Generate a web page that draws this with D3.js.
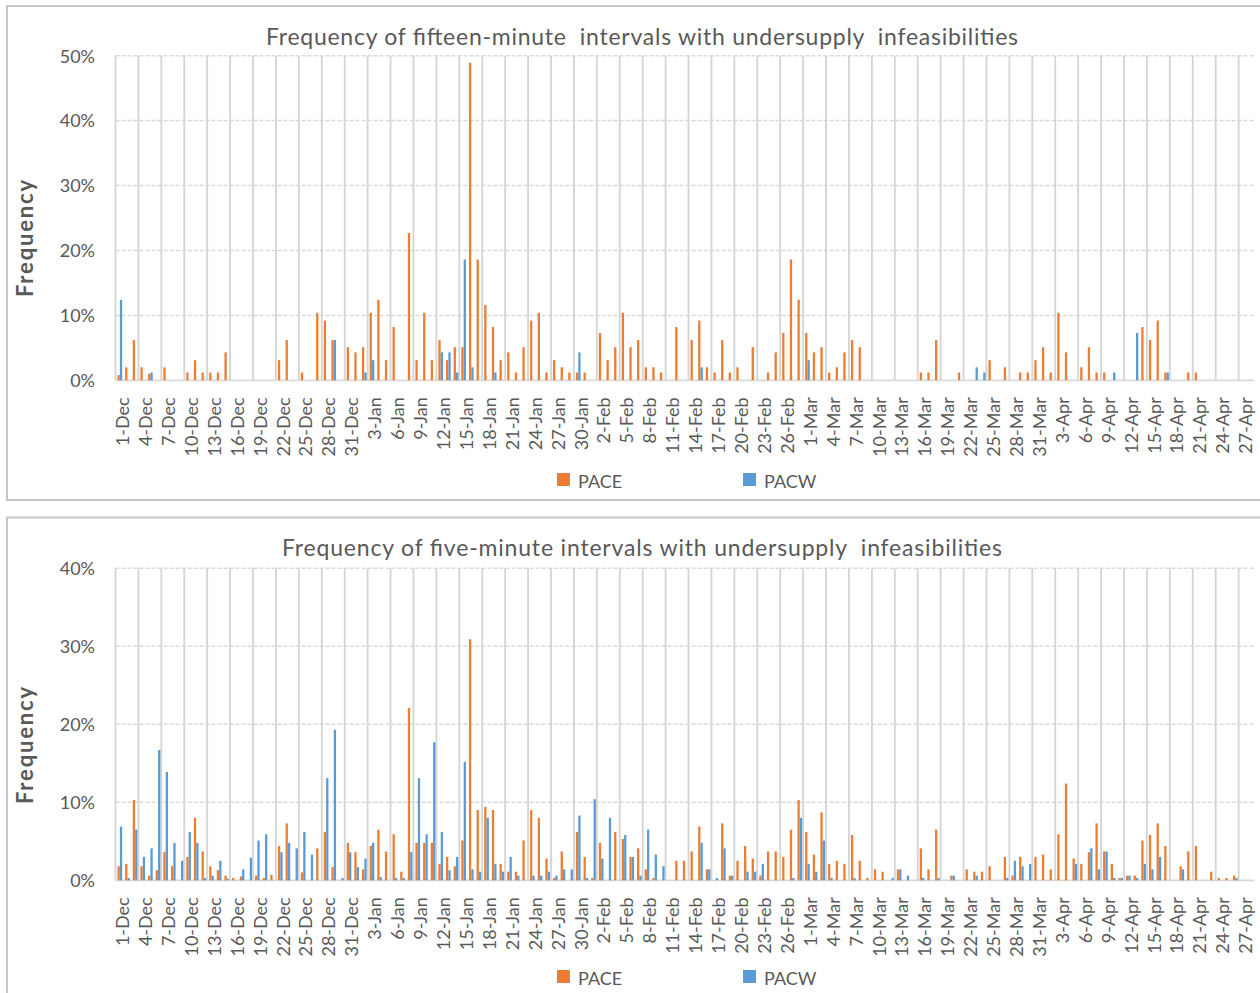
<!DOCTYPE html>
<html><head><meta charset="utf-8">
<script src="https://cdn.jsdelivr.net/npm/d3@7"></script>
<style>
html,body{margin:0;padding:0;background:#fff;}
svg{display:block;font-family:Lato,"Open Sans",sans-serif;}
</style></head><body>
<svg id="chart" width="1260" height="993"></svg>
<script>
// ---- categories ----
const months = [["Dec",31],["Jan",31],["Feb",28],["Mar",31],["Apr",28]];
const days = [];
months.forEach(([m,n]) => { for (let d = 1; d <= n; d++) days.push(d + "-" + m); });
const series = ["PACE","PACW"];
const seriesColors = ["#ED7D31","#5B9BD5"];

// ---- fifteen-minute panel (percent) ----
const pace15 = [
 /*Dec*/ 0.8,2.0,6.2,2.0,1.0,0,2.0,0,0,1.2, 3.1,1.2,1.2,1.2,4.3,0,0,0,0,0, 0,3.1,6.2,0,1.2,0,10.4,9.2,6.2,0, 5.1,
 /*Jan*/ 4.3,5.1,10.4,12.4,3.1,8.2,0,22.7,3.1,10.4, 3.1,6.2,3.1,5.1,5.1,48.9,18.6,11.6,8.2,3.1, 4.3,1.2,5.1,9.2,10.4,1.2,3.1,2.0,1.2,1.2, 1.2,
 /*Feb*/ 0,7.3,3.1,5.1,10.4,5.1,6.2,2.0,2.0,1.2, 0,8.2,0,6.2,9.2,2.0,1.2,6.2,1.2,2.0, 0,5.1,0,1.2,4.3,7.3,18.6,12.4,
 /*Mar*/ 7.3,4.3,5.1,1.2,2.0,4.3,6.2,5.1,0,0, 0,0,0,0,0,1.2,1.2,6.2,0,0, 1.2,0,0,0,3.1,0,2.0,0,1.2,1.2, 3.1,
 /*Apr*/ 5.1,1.2,10.4,4.3,0,2.0,5.1,1.2,1.2,0, 0,0,0,8.2,6.2,9.2,1.2,0,0,1.2, 1.2,0,0,0,0,0,0,0
];
const pacw15 = [
 /*Dec*/ 12.4,0,0,0,1.2,0,0,0,0,0, 0,0,0,0,0,0,0,0,0,0, 0,0,0,0,0,0,0,0,6.2,0, 0,
 /*Jan*/ 0,1.2,3.1,0,0,0,0,0,0,0, 0,4.3,4.3,1.2,18.6,2.0,0,0,1.2,0, 0,0,0,0,0,0,0,0,0,4.3, 0,
 /*Feb*/ 0,0,0,0,0,0,0,0,0,0, 0,0,0,0,2.0,0,0,0,0,0, 0,0,0,0,0,0,0,0,
 /*Mar*/ 3.1,0,0,0,0,0,0,0,0,0, 0,0,0,0,0,0,0,0,0,0, 0,0,2.0,1.2,0,0,0,0,0,0, 0,
 /*Apr*/ 0,0,0,0,0,0,0,0,0,1.2, 0,0,7.3,0,0,0,1.2,0,0,0, 0,0,0,0,0,0,0,0
];

// ---- five-minute panel (percent) ----
const pace5 = [
 /*Dec*/ 1.8,2.1,10.3,1.8,0.6,1.3,3.6,1.8,0,3.0, 8.0,3.7,1.8,1.3,0.6,0.3,0.5,0,0.6,0.3, 0.7,4.4,7.3,0,1.0,0,4.1,6.2,1.7,0, 4.8,
 /*Jan*/ 3.6,1.4,4.4,6.5,3.7,5.9,1.1,22.1,4.8,4.8, 4.8,2.1,3.0,1.8,5.1,30.9,9.0,9.4,9.0,2.1, 1.1,1.1,5.1,9.0,8.0,2.8,0.3,3.7,0,6.2, 3.0,
 /*Feb*/ 0.3,4.8,0,6.2,5.3,3.0,4.1,1.4,0.3,0, 0,2.5,2.5,3.7,6.9,1.4,0,7.3,0.6,2.5, 4.4,2.8,0.6,3.7,3.7,3.0,6.5,10.3,
 /*Mar*/ 6.2,3.3,8.7,2.1,2.5,2.1,5.8,2.5,0.3,1.4, 1.1,0,1.4,0,0,4.1,1.4,6.5,0,0.6, 0,1.4,1.1,1.1,1.8,0,3.0,0.6,3.0,0, 3.0,
 /*Apr*/ 3.3,1.4,5.9,12.4,2.8,2.1,3.6,7.3,3.7,2.1, 0.3,0.6,0.6,5.1,5.8,7.3,4.4,0,1.8,3.7, 4.4,0,1.1,0.3,0.3,0.6,0,0
];
const pacw5 = [
 /*Dec*/ 6.9,0.3,6.5,3.0,4.1,16.7,13.9,4.8,2.5,6.2, 4.8,0.3,0.6,2.5,0.2,0,1.4,2.9,5.1,5.9, 0,3.6,4.8,4.1,6.2,3.3,0,13.1,19.3,0.3, 3.6,
 /*Jan*/ 1.7,2.8,4.8,0.4,0,0.3,0.3,3.6,13.1,5.9, 17.7,6.2,1.3,3.0,15.2,1.4,1.1,8.0,2.1,1.1, 3.0,0.6,0,0.6,0.6,1.1,0.6,1.4,1.4,8.3, 0.3,
 /*Feb*/ 10.4,2.8,8.0,0,5.8,3.0,0.6,6.5,3.3,1.8, 0,0,0,0,4.8,1.4,0.3,4.1,0.6,0, 1.1,1.1,2.1,0,0,0,0.3,8.0,
 /*Mar*/ 2.1,1.1,5.1,0.3,0,0,0.3,0,0,0, 0,0.3,1.4,0.6,0,0.3,0,0.3,0,0.6, 0,0,0.6,0,0,0,0.3,2.5,1.8,2.1, 0,
 /*Apr*/ 0,0,0,0,2.1,0,4.1,1.4,3.7,0.3, 0.3,0.6,0.3,2.1,1.4,3.0,0,0,1.4,0, 0,0,0,0,0,0.3,0,0
];

const yTicks15 = [0,10,20,30,40,50];
const yTicks5 = [0,10,20,30,40];
const title15 = "Frequency of fifteen-minute  intervals with undersupply  infeasibilities";
const title5 = "Frequency of five-minute intervals with undersupply  infeasibilities";
const yAxisTitle = "Frequency";

// ---- layout ----
const svg = d3.select("#chart");
const textColor = "#595959";
const gridColor = "#d9d9d9";
const plotLeft = 115.5, plotRight = 1253.9;

const panels = [
  {title: title15, values: [pace15, pacw15], ticks: yTicks15, box: [7, 6, 1270, 494],
   top: 55.7, bottom: 380.3, titleY: 45, titleLen: 752, yLabelY: 238.5, legendY: 473},
  {title: title5, values: [pace5, pacw5], ticks: yTicks5, box: [7, 517.5, 1270, 520],
   top: 568.3, bottom: 880.3, titleY: 556, titleLen: 720, yLabelY: 745.5, legendY: 970}
];

const x0 = d3.scaleBand().domain(days).range([plotLeft, plotRight]).paddingInner(0).paddingOuter(0);
const bw = x0.bandwidth();
const x1 = d3.scaleBand().domain(series).range([bw * 0.26, bw * 0.87]).paddingInner(0.03);

panels.forEach(p => {
  const g = svg.append("g");
  g.append("rect").attr("x", p.box[0]).attr("y", p.box[1]).attr("width", p.box[2]).attr("height", p.box[3])
    .attr("fill", "#fff").attr("stroke", "#c6c6c6").attr("stroke-width", 2);

  const y = d3.scaleLinear().domain([0, d3.max(p.ticks)]).range([p.bottom, p.top]);

  // horizontal dashed gridlines
  g.selectAll("line.hgrid").data(p.ticks.filter(t => t > 0)).join("line")
    .attr("x1", plotLeft).attr("x2", plotRight)
    .attr("y1", d => y(d)).attr("y2", d => y(d))
    .attr("stroke", gridColor).attr("stroke-width", 1.5).attr("stroke-dasharray", "4,2");

  // vertical gridlines every 3 days
  const vdays = days.filter((d, i) => i % 3 === 0);
  g.selectAll("line.vgrid").data(vdays).join("line")
    .attr("x1", d => x0(d)).attr("x2", d => x0(d))
    .attr("y1", p.top).attr("y2", p.bottom)
    .attr("stroke", "#d4d4d4").attr("stroke-width", 1.8);

  // x axis baseline
  g.append("line").attr("x1", plotLeft).attr("x2", plotRight)
    .attr("y1", y(0)).attr("y2", y(0)).attr("stroke", gridColor).attr("stroke-width", 1.8);

  // bars
  series.forEach((s, si) => {
    g.append("g").selectAll("rect").data(days.map((d, i) => ({d, v: p.values[si][i]})).filter(o => o.v > 0))
      .join("rect")
      .attr("x", o => x0(o.d) + x1(s))
      .attr("width", x1.bandwidth())
      .attr("y", o => y(o.v))
      .attr("height", o => y(0) - y(o.v))
      .attr("fill", seriesColors[si]);
  });

  // y axis
  const ya = g.append("g").attr("transform", "translate(95,0)")
    .call(d3.axisLeft(y).tickValues(p.ticks).tickFormat(d => d + "%").tickSize(0).tickPadding(0));
  ya.select(".domain").remove();
  ya.selectAll("text").attr("font-family", "Lato, 'Open Sans', sans-serif").attr("font-size", 18)
    .attr("fill", textColor).attr("dy", "0.35em");

  // x axis labels
  const xa = g.append("g").attr("transform", `translate(0,${y(0)})`)
    .call(d3.axisBottom(x0).tickValues(vdays).tickSize(0));
  xa.select(".domain").remove();
  xa.selectAll("text").attr("font-family", "Lato, 'Open Sans', sans-serif").attr("font-size", 18)
    .attr("fill", textColor).attr("transform", "rotate(-90)")
    .attr("text-anchor", "end").attr("x", -17).attr("y", 3.5).attr("dy", "0.35em");

  // title
  g.append("text").attr("x", 642).attr("y", p.titleY).attr("text-anchor", "middle")
    .attr("font-size", 23).attr("fill", textColor).style("white-space", "pre")
    .attr("textLength", p.titleLen).attr("lengthAdjust", "spacing").text(p.title);

  // y axis title
  g.append("text").attr("transform", `translate(33,${p.yLabelY}) rotate(-90)`)
    .attr("text-anchor", "middle").attr("font-size", 22).attr("font-weight", "bold")
    .attr("fill", textColor).attr("textLength", 117).attr("lengthAdjust", "spacing").text(yAxisTitle);

  // legend
  const legX = [557, 743];
  series.forEach((s, si) => {
    g.append("rect").attr("x", legX[si]).attr("y", p.legendY).attr("width", 13).attr("height", 13)
      .attr("fill", seriesColors[si]);
    g.append("text").attr("x", legX[si] + 21).attr("y", p.legendY + 14.5)
      .attr("font-size", 18).attr("fill", textColor).text(s);
  });
});
</script>
</body></html>
